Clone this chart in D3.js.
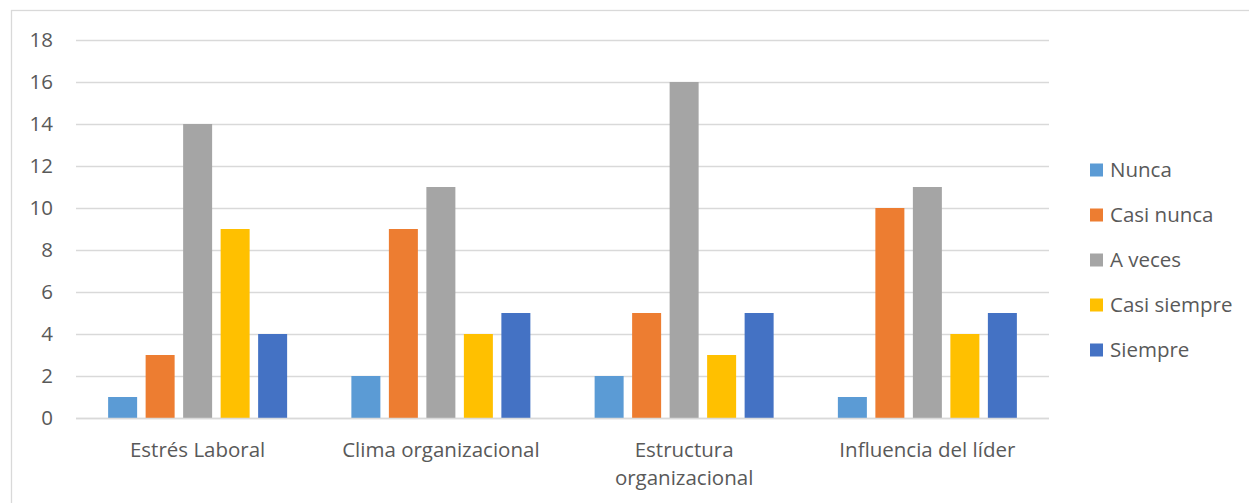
<!DOCTYPE html>
<html>
<head>
<meta charset="utf-8">
<script src="https://cdn.jsdelivr.net/npm/d3@7"></script>
<style>
  html, body { margin: 0; padding: 0; background: #fff; }
  svg { display: block; }
  text { font-family: "Open Sans", sans-serif; fill: #595959; }
</style>
</head>
<body>
<svg id="chart" width="1249" height="503"></svg>
<script>
const categories = ["Estrés Laboral", "Clima organizacional", "Estructura organizacional", "Influencia del líder"];
const seriesNames = ["Nunca", "Casi nunca", "A veces", "Casi siempre", "Siempre"];
const nunca = [1, 2, 2, 1];
const casiNunca = [3, 9, 5, 10];
const aVeces = [14, 11, 16, 11];
const casiSiempre = [9, 4, 3, 4];
const siempre = [4, 5, 5, 5];
const yTicks = [0, 2, 4, 6, 8, 10, 12, 14, 16, 18];
const colors = ["#5B9BD5", "#ED7D31", "#A5A5A5", "#FFC000", "#4472C4"];

const seriesValues = [nunca, casiNunca, aVeces, casiSiempre, siempre];
const data = categories.map((c, i) => ({
  category: c,
  values: seriesNames.map((s, j) => ({ series: s, value: seriesValues[j][i] }))
}));

const svg = d3.select("#chart");
const fontSize = 20.5;
const fontFam = "'Open Sans', sans-serif";

// chart border
svg.append("rect")
  .attr("x", 11.5).attr("y", 10.5)
  .attr("width", 1260).attr("height", 520)
  .attr("fill", "none").attr("stroke", "#D9D9D9").attr("stroke-width", 1.3);

const plot = { left: 76, right: 1049, top: 40, bottom: 418 };

const x0 = d3.scaleBand().domain(categories).range([plot.left, plot.right]).padding(0);
const bw = x0.bandwidth();
const step = 37.5;
const innerPad = 8.5 / step;
const groupW = step * seriesNames.length;
const x1 = d3.scaleBand().domain(seriesNames)
  .range([(bw - groupW) / 2, (bw + groupW) / 2])
  .paddingInner(innerPad).paddingOuter(innerPad / 2);

const y = d3.scaleLinear().domain([0, 18]).range([plot.bottom, plot.top]);

// gridlines
svg.append("g").selectAll("line").data(yTicks).join("line")
  .attr("x1", plot.left).attr("x2", plot.right)
  .attr("y1", d => Math.round(y(d)) + 0.5).attr("y2", d => Math.round(y(d)) + 0.5)
  .attr("stroke", "#D9D9D9").attr("stroke-width", 1.3);

// y axis labels
const yAxis = d3.axisLeft(y).tickValues(yTicks).tickSize(0).tickPadding(0);
const yg = svg.append("g").attr("transform", `translate(${53},0)`).call(yAxis);
yg.select(".domain").remove();
yg.selectAll("text").attr("font-size", fontSize).attr("fill", "#595959")
  .style("font-family", fontFam);

// bars
const groups = svg.append("g").selectAll("g").data(data).join("g")
  .attr("transform", d => `translate(${x0(d.category)},0)`);
groups.selectAll("rect").data(d => d.values).join("rect")
  .attr("x", d => x1(d.series))
  .attr("width", x1.bandwidth())
  .attr("y", d => y(d.value))
  .attr("height", d => y(0) - y(d.value))
  .attr("fill", (d, i) => colors[i]);

// baseline
svg.append("line")
  .attr("x1", plot.left).attr("x2", plot.right)
  .attr("y1", Math.round(y(0)) + 0.5).attr("y2", Math.round(y(0)) + 0.5)
  .attr("stroke", "#D9D9D9").attr("stroke-width", 1.3);

// x axis labels with wrapping
const xLabelWrap = {
  "Estructura organizacional": ["Estructura", "organizacional"]
};
const xl = svg.append("g").selectAll("text").data(categories).join("text")
  .attr("x", d => x0(d) + bw / 2)
  .attr("y", 457)
  .attr("text-anchor", "middle")
  .attr("font-size", fontSize);
xl.each(function(d) {
  const lines = xLabelWrap[d] || [d];
  const t = d3.select(this);
  lines.forEach((ln, i) => {
    t.append("tspan").attr("x", x0(d) + bw / 2).attr("dy", i === 0 ? 0 : 28).text(ln);
  });
});

// legend
const legend = svg.append("g").selectAll("g").data(seriesNames).join("g")
  .attr("transform", (d, i) => `translate(1090, ${170 + i * 45})`);
legend.append("rect")
  .attr("x", 0).attr("y", -6.5).attr("width", 13).attr("height", 13)
  .attr("fill", (d, i) => colors[i]);
legend.append("text")
  .attr("x", 20).attr("y", 0).attr("dy", "0.35em")
  .attr("font-size", fontSize)
  .text(d => d);
</script>
</body>
</html>
